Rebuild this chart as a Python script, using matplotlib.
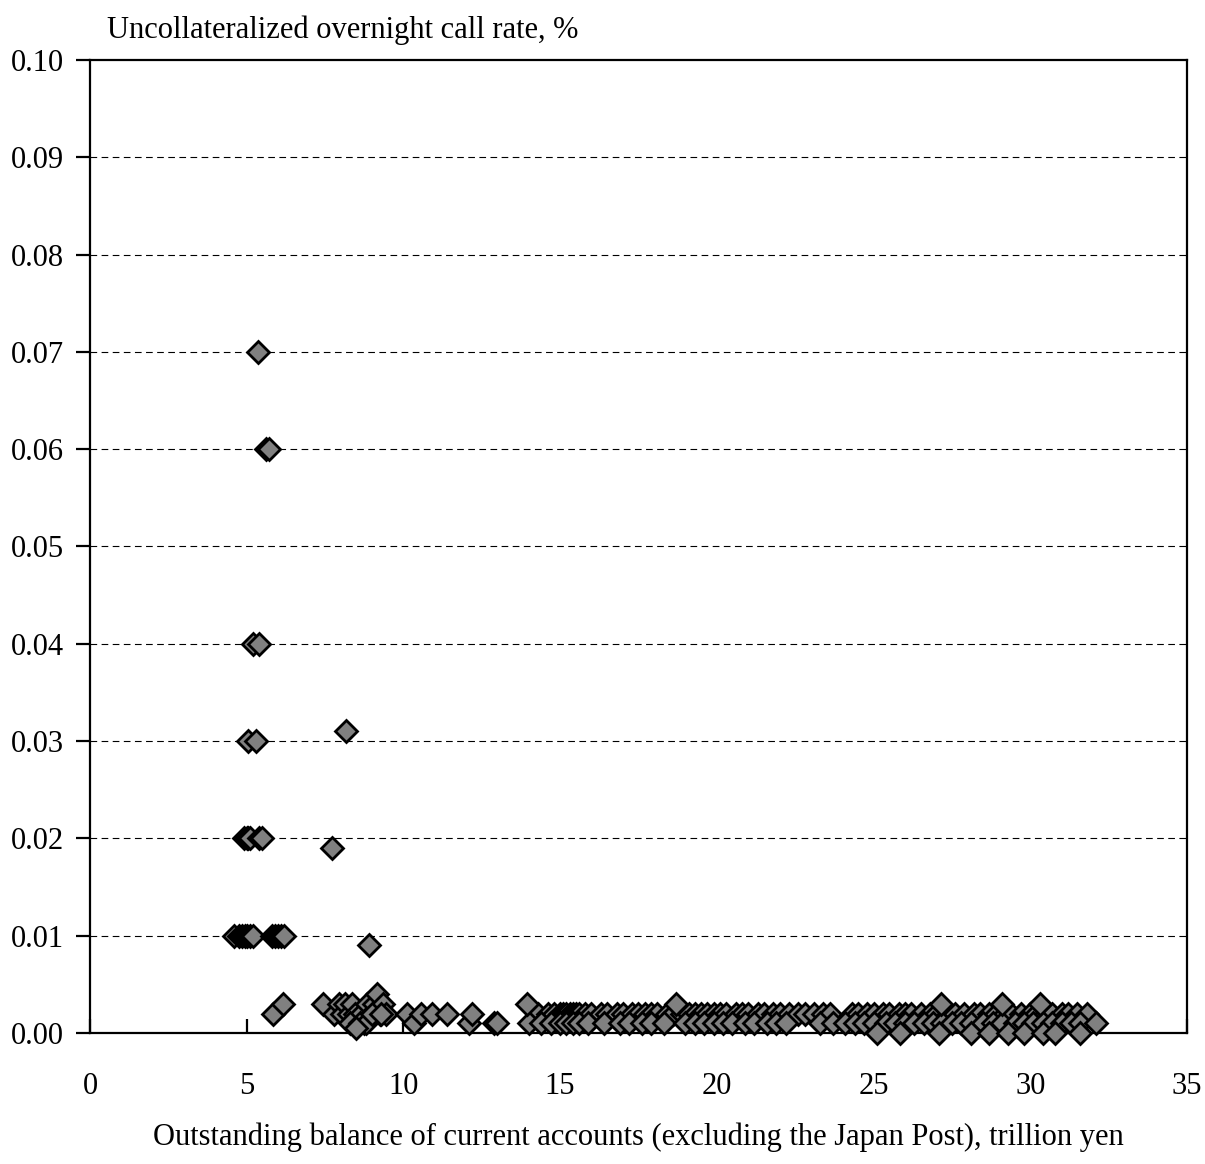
import matplotlib.pyplot as plt
import numpy as np

plt.rcParams["font.family"] = ["Liberation Serif", "DejaVu Serif"]
plt.rcParams["font.size"] = 22

# Call rate (%) against current account balance (trillion yen)
early_x = [5.36, 5.6, 5.7, 5.2, 5.4, 5.05, 5.3, 4.9, 5.0, 5.05, 5.1, 5.4, 5.5,
           4.6, 4.75, 4.85, 4.95, 5.0, 5.1, 5.2, 5.8, 5.9, 6.0, 6.1, 6.2,
           5.85, 6.15, 7.72, 8.17, 8.9]
early_y = [0.07, 0.06, 0.06, 0.04, 0.04, 0.03, 0.03, 0.02, 0.02, 0.02, 0.02, 0.02, 0.02,
           0.01, 0.01, 0.01, 0.01, 0.01, 0.01, 0.01, 0.01, 0.01, 0.01, 0.01, 0.01,
           0.002, 0.003, 0.019, 0.031, 0.009]

mid_x = [7.45, 7.8, 7.95, 8.05, 8.15, 8.25, 8.35, 8.45, 8.55, 8.65, 8.75, 8.85,
         8.95, 9.05, 9.16, 9.25, 9.35, 9.45, 8.3, 8.6, 8.8, 9.0, 8.5, 9.3,
         10.1, 10.35, 10.55, 10.9, 11.4, 12.1, 12.2, 12.9, 13.0]
mid_y = [0.003, 0.002, 0.003, 0.002, 0.003, 0.002, 0.003, 0.002, 0.001, 0.002, 0.001, 0.003,
         0.002, 0.003, 0.004, 0.002, 0.003, 0.002, 0.001, 0.001, 0.001, 0.002, 0.0005, 0.002,
         0.002, 0.001, 0.002, 0.002, 0.002, 0.001, 0.002, 0.001, 0.001]

row2_x = [14.3, 14.6, 14.8, 15.0, 15.1, 15.2, 15.3, 15.4, 15.5, 15.6, 15.8, 16.0,
          16.3, 16.5, 16.8, 17.0, 17.3, 17.5, 17.7, 17.9, 18.1, 18.4, 18.6, 18.9,
          19.1, 19.3, 19.5, 19.7, 19.9, 20.1, 20.3, 20.6, 20.8, 21.0, 21.3, 21.5,
          21.8, 22.0, 22.3, 22.6, 22.8, 23.1, 23.4, 23.6, 24.3, 24.5, 24.8, 25.0,
          25.3, 25.5, 25.8, 26.0, 26.2, 26.5, 26.8, 27.0, 27.4, 27.6, 27.9, 28.2,
          28.4, 28.7, 28.9, 29.2, 29.4, 29.7, 30.0, 30.2, 30.5, 30.7, 31.0, 31.2,
          31.5, 31.8]

row1_x = [14.0, 14.4, 14.7, 15.0, 15.2, 15.4, 15.6, 15.9, 16.4, 16.9, 17.2, 17.6,
          17.9, 18.3, 19.0, 19.3, 19.6, 19.9, 20.2, 20.5, 20.9, 21.2, 21.6, 21.9,
          22.2, 23.3, 23.7, 24.1, 24.4, 24.7, 25.0, 25.4, 25.7, 26.0, 26.3, 26.6,
          26.9, 27.2, 27.5, 27.8, 28.1, 28.5, 28.8, 29.1, 29.5, 29.8, 30.1, 30.4,
          30.7, 31.0, 31.3, 31.6, 32.1]

row3_x = [13.95, 18.7, 27.15, 29.1, 30.3]
row0_x = [25.1, 25.85, 27.1, 28.1, 28.7, 29.3, 29.8, 30.4, 30.8, 31.6]

x = np.concatenate([early_x, mid_x, row2_x, row1_x, row3_x, row0_x])
y = np.concatenate([early_y, mid_y,
                    np.full(len(row2_x), 0.002), np.full(len(row1_x), 0.001),
                    np.full(len(row3_x), 0.003), np.full(len(row0_x), 0.0)])

fig = plt.figure(figsize=(12.05, 11.64), dpi=100)
ax = fig.add_axes([0.0747, 0.1125, 0.9103, 0.836])

ax.plot(x, y, "D", color="#808080", markeredgecolor="black",
        markersize=11.5, markeredgewidth=2.0, linestyle="none", zorder=3,
        clip_on=False)

ax.set_xlim(0, 35)
ax.set_ylim(0, 0.10)
ax.set_xticks(np.arange(0, 36, 5))
ax.set_yticks(np.arange(0, 0.101, 0.01))
ax.set_yticklabels([f"{v:.2f}" for v in np.arange(0, 0.101, 0.01)])

for v in np.arange(0.01, 0.095, 0.01):
    ax.axhline(v, color="black", linestyle=(0, (6, 4)), linewidth=0.8, zorder=1)

for s in ax.spines.values():
    s.set_linewidth(1.6)
ax.tick_params(axis="x", direction="in", length=10, width=1.6, pad=28)
ax.tick_params(axis="y", direction="out", length=10, width=1.6, pad=9)

fig.text(107 / 1205, 1 - 38 / 1164, "Uncollateralized overnight call rate, %",
         ha="left", va="baseline", fontsize=22)
fig.text(638 / 1205, 1 - 1137 / 1164,
         "Outstanding balance of current accounts (excluding the Japan Post), trillion yen",
         ha="center", va="center", fontsize=22)

fig.savefig("out.png", dpi=100)
